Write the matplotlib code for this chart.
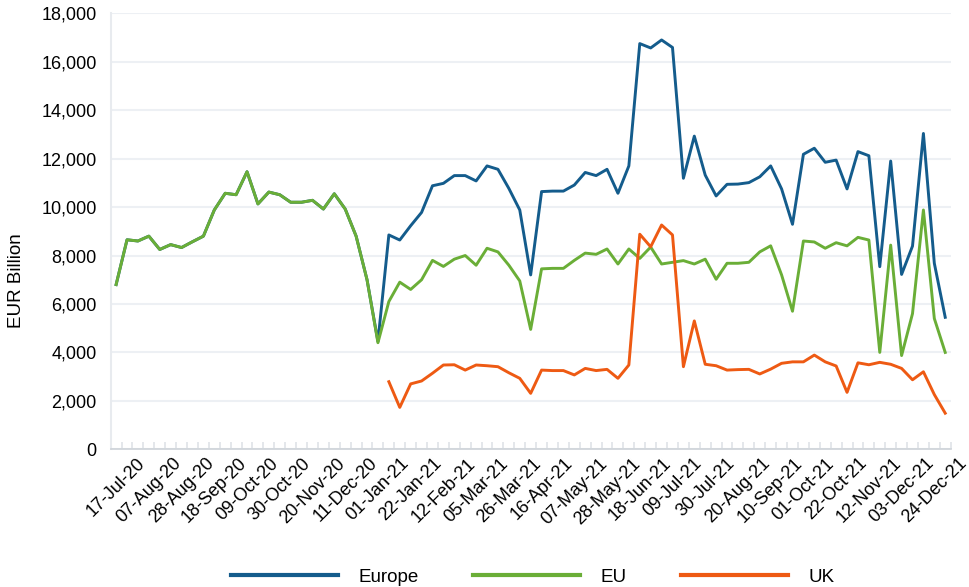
import numpy as np
import matplotlib
matplotlib.use("Agg")
import matplotlib.pyplot as plt
from matplotlib.ticker import FuncFormatter, FixedLocator

plt.rcParams['font.family'] = ['Liberation Sans', 'DejaVu Sans']

# weekly series, 17-Jul-20 .. 31-Dec-21 (EUR billion)
europe = [6800, 8650, 8600, 8800, 8250, 8450, 8330, 8570, 8800, 9880,
          10570, 10510, 11460, 10130, 10620, 10510, 10200, 10200, 10280, 9920,
          10550, 9920, 8800, 7000, 4450, 8850, 8640, 9230, 9780, 10880,
          10980, 11300, 11300, 11080, 11700, 11560, 10770, 9880, 7200, 10640,
          10660, 10660, 10910, 11430, 11300, 11560, 10570, 11700, 16750, 16570,
          16900, 16590, 11190, 12930, 11320, 10460, 10940, 10950, 11010, 11250,
          11700, 10750, 9290, 12180, 12430, 11850, 11940, 10750, 12290, 12120,
          7540, 11900, 7220, 8390, 13040, 7680, 5450]
eu = [6800, 8650, 8600, 8800, 8250, 8450, 8330, 8570, 8800, 9880,
      10570, 10510, 11460, 10130, 10620, 10510, 10200, 10200, 10280, 9920,
      10550, 9920, 8800, 7000, 4400, 6100, 6900, 6600, 7000, 7800,
      7550, 7850, 8000, 7600, 8300, 8150, 7600, 6950, 4950, 7450,
      7470, 7470, 7800, 8100, 8050, 8270, 7650, 8270, 7880, 8350,
      7650, 7720, 7790, 7650, 7850, 7020, 7680, 7680, 7720, 8150,
      8400, 7200, 5700, 8600, 8560, 8300, 8530, 8400, 8750, 8640,
      4000, 8430, 3870, 5600, 9880, 5400, 4000]
uk = [np.nan] * 25 + [
      2790, 1730, 2700, 2820, 3140, 3480, 3490, 3270, 3480, 3450,
      3410, 3160, 2930, 2310, 3270, 3250, 3250, 3070, 3340, 3250,
      3300, 2930, 3480, 8880, 8360, 9260, 8850, 3410, 5300, 3510,
      3450, 3270, 3290, 3300, 3110, 3310, 3550, 3610, 3610, 3890,
      3610, 3440, 2350, 3570, 3490, 3590, 3510, 3340, 2870, 3200,
      2260, 1490]

tick_labels = ["17-Jul-20", "07-Aug-20", "28-Aug-20", "18-Sep-20", "09-Oct-20",
               "30-Oct-20", "20-Nov-20", "11-Dec-20", "01-Jan-21", "22-Jan-21",
               "12-Feb-21", "05-Mar-21", "26-Mar-21", "16-Apr-21", "07-May-21",
               "28-May-21", "18-Jun-21", "09-Jul-21", "30-Jul-21", "20-Aug-21",
               "10-Sep-21", "01-Oct-21", "22-Oct-21", "12-Nov-21", "03-Dec-21",
               "24-Dec-21"]

n = len(europe)
x = np.arange(n)

fig = plt.figure(figsize=(9.69, 5.87), dpi=100)
ax = fig.add_axes([0.1142, 0.2346, 0.8669, 0.7427])

ax.plot(x, europe, color="#145c8c", lw=2.1, label="Europe", zorder=3)
ax.plot(x, eu, color="#6aae37", lw=2.1, label="EU", zorder=4)
ax.plot(x, uk, color="#ee5a13", lw=2.1, label="UK", zorder=5)

ax.set_xlim(-0.5, n - 0.5)
ax.set_ylim(0, 18000)
ax.set_yticks(np.arange(0, 18001, 2000))
ax.yaxis.set_major_formatter(FuncFormatter(lambda v, p: f"{int(v):,}"))
ax.grid(axis="y", color="#edf0f4", lw=1.5)
ax.set_axisbelow(True)

# labels every third week, small ticks between weeks
ax.set_xticks(np.arange(0, 3 * len(tick_labels), 3))
ax.set_xticklabels(tick_labels, rotation=45, ha="center", va="top")
ax.xaxis.set_minor_locator(FixedLocator(np.arange(n + 1) - 0.5))
ax.tick_params(axis="x", which="major", length=0, labelsize=13, pad=4)
ax.tick_params(axis="x", which="minor", direction="in", length=5,
               width=1.2, color="#dfe3e8")
ax.tick_params(axis="y", length=0, labelsize=13, pad=10)

for s in ["top", "right"]:
    ax.spines[s].set_visible(False)
ax.spines["left"].set_color("#e8ebef")
ax.spines["left"].set_linewidth(1.5)
ax.spines["bottom"].set_color("#cdd2d8")
ax.spines["bottom"].set_linewidth(1.2)

ax.set_ylabel("EUR Billion", fontsize=13.5)
ax.yaxis.set_label_coords(-0.102, 0.386)

handles, labels = ax.get_legend_handles_labels()
leg = fig.legend(handles, labels, loc="lower center", ncol=3,
                 bbox_to_anchor=(0.55, -0.027), frameon=False, fontsize=13.5,
                 handlelength=5.7, handletextpad=1.1, columnspacing=2.9)
for h in leg.get_lines():
    h.set_linewidth(3)

fig.savefig("out.png", dpi=100)
